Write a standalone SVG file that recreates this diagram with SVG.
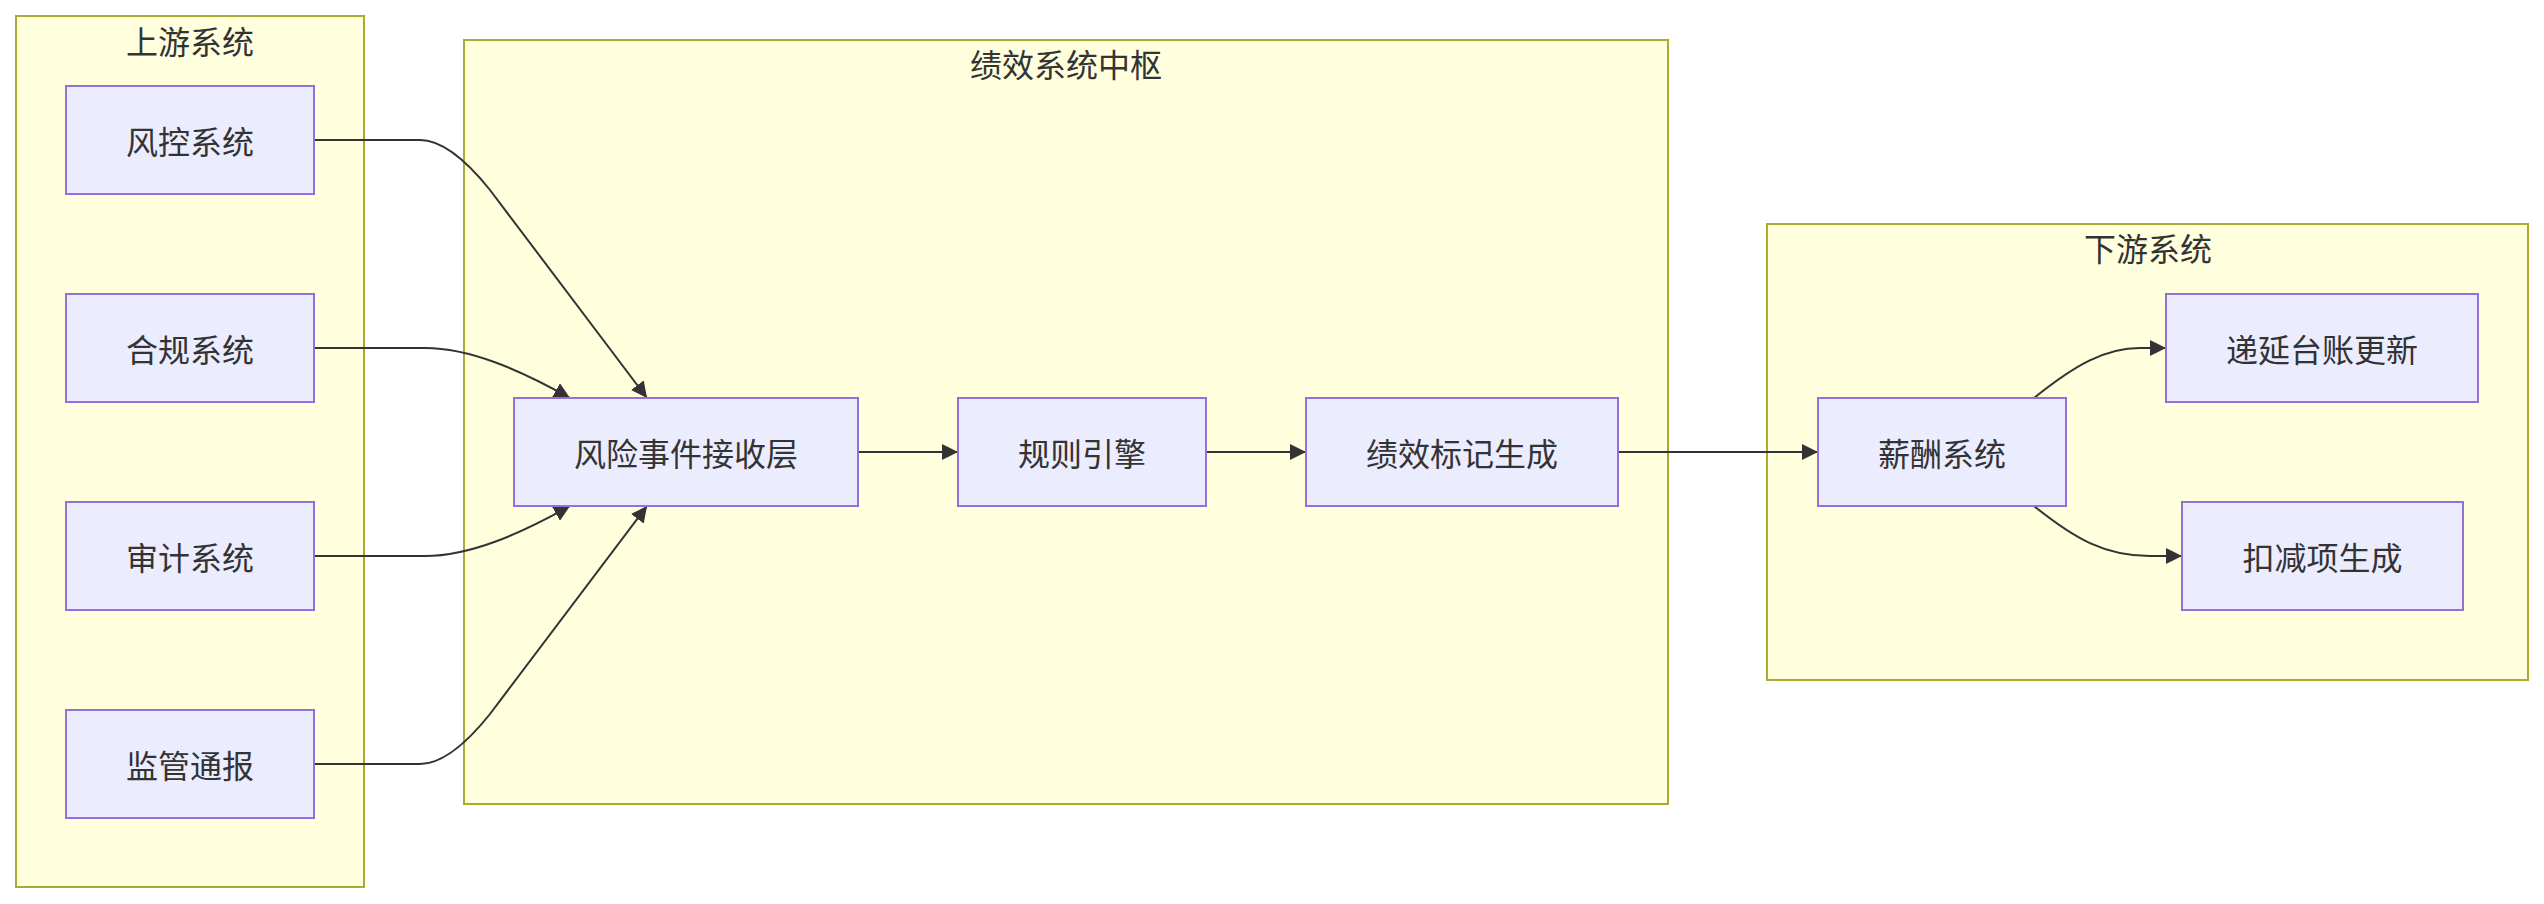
<svg xmlns="http://www.w3.org/2000/svg" width="2544" height="904" viewBox="0 0 2544 904">
<style>
.cluster{fill:#ffffde;stroke:#aaaa33;stroke-width:2}
.node rect{fill:#ECECFF;stroke:#9370DB;stroke-width:2}
text{font-family:"Noto Sans CJK SC","Noto Sans",sans-serif;font-size:32px;fill:#333;text-anchor:middle;dominant-baseline:central}
.edge{fill:none;stroke:#333;stroke-width:2;marker-end:url(#arrow)}
</style>
<defs>
<marker id="arrow" viewBox="0 0 10 10" refX="10" refY="5" markerUnits="userSpaceOnUse" markerWidth="16" markerHeight="16" orient="auto">
<path d="M0,0 L10,5 L0,10 z" fill="#333"/>
</marker>
</defs>
<rect width="2544" height="904" fill="#ffffff"/>
<g id="cluster-upstream">
<rect class="cluster" x="16" y="16" width="348" height="871"/>
<text x="190" y="40">上游系统</text>
</g>
<g id="cluster-core">
<rect class="cluster" x="464" y="40" width="1204" height="764"/>
<text x="1066" y="63">绩效系统中枢</text>
</g>
<g id="cluster-downstream">
<rect class="cluster" x="1767" y="224" width="761" height="456"/>
<text x="2148" y="247">下游系统</text>
</g>
<g id="connectors">
<path class="edge" d="M314,140 L420,140 C445,140 470,165 490,190 L647,398"/>
<path class="edge" d="M314,348 L425,348 C470,348 520,370 570,398"/>
<path class="edge" d="M314,556 L425,556 C470,556 520,534 570,506"/>
<path class="edge" d="M314,764 L420,764 C445,764 470,739 490,714 L647,506"/>
<path class="edge" d="M858,452 L958,452"/>
<path class="edge" d="M1206,452 L1306,452"/>
<path class="edge" d="M1618,452 L1818,452"/>
<path class="edge" d="M2034,398 C2075,365 2105,348 2140,348 L2166,348"/>
<path class="edge" d="M2034,506 C2075,539 2105,556 2150,556 L2182,556"/>
</g>
<g id="node-fengkong" class="node"><rect x="66" y="86" width="248" height="108"/><text x="190" y="140">风控系统</text></g>
<g id="node-hegui" class="node"><rect x="66" y="294" width="248" height="108"/><text x="190" y="348">合规系统</text></g>
<g id="node-shenji" class="node"><rect x="66" y="502" width="248" height="108"/><text x="190" y="556">审计系统</text></g>
<g id="node-jianguan" class="node"><rect x="66" y="710" width="248" height="108"/><text x="190" y="764">监管通报</text></g>
<g id="node-receive" class="node"><rect x="514" y="398" width="344" height="108"/><text x="686" y="452">风险事件接收层</text></g>
<g id="node-rules" class="node"><rect x="958" y="398" width="248" height="108"/><text x="1082" y="452">规则引擎</text></g>
<g id="node-mark" class="node"><rect x="1306" y="398" width="312" height="108"/><text x="1462" y="452">绩效标记生成</text></g>
<g id="node-salary" class="node"><rect x="1818" y="398" width="248" height="108"/><text x="1942" y="452">薪酬系统</text></g>
<g id="node-deferred" class="node"><rect x="2166" y="294" width="312" height="108"/><text x="2322" y="348">递延台账更新</text></g>
<g id="node-deduct" class="node"><rect x="2182" y="502" width="281" height="108"/><text x="2322.5" y="556">扣减项生成</text></g>
</svg>
